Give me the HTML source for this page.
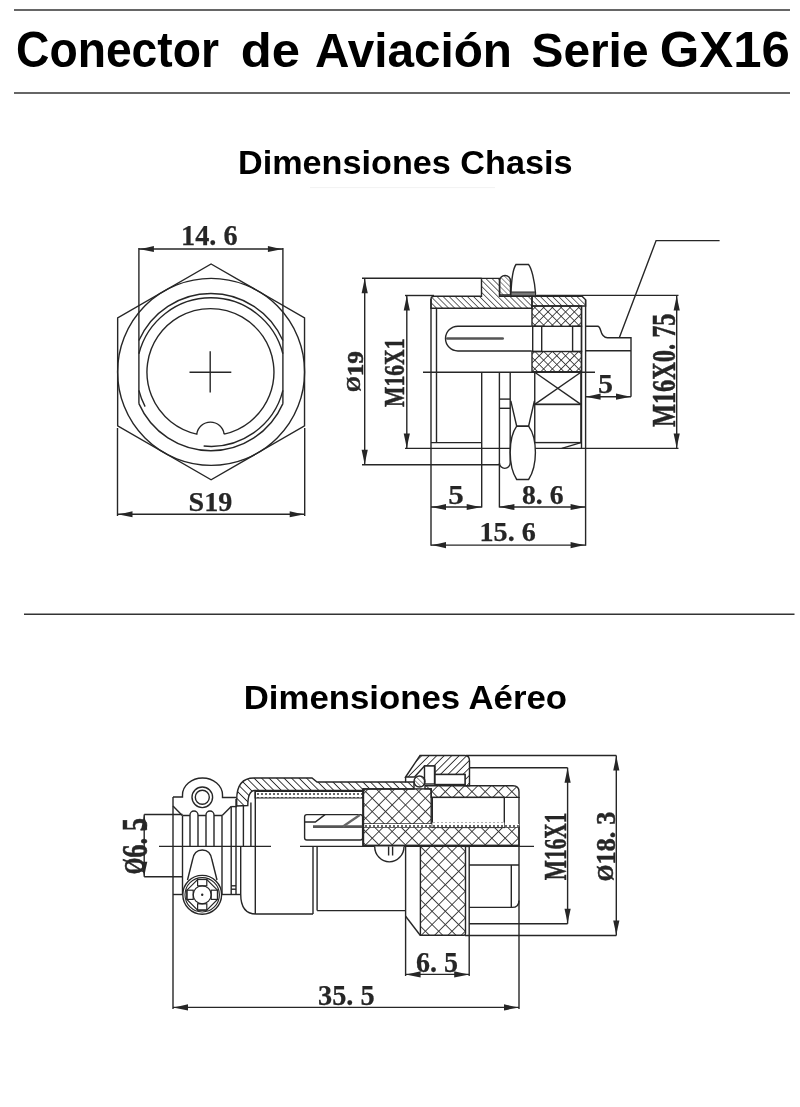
<!DOCTYPE html>
<html><head><meta charset="utf-8">
<style>
html,body{margin:0;padding:0;background:#fff;}
body{width:800px;height:1107px;overflow:hidden;}
svg{display:block;filter:grayscale(1);}
</style></head><body>
<svg width="800" height="1107" viewBox="0 0 800 1107">
<defs>
<pattern id="hb" width="4.3" height="4.3" patternUnits="userSpaceOnUse" patternTransform="rotate(-45)"><line x1="0" y1="0" x2="0" y2="4.3" stroke="#2a2a2a" stroke-width="1.4"/></pattern>
<pattern id="ha" width="5.3" height="5.3" patternUnits="userSpaceOnUse" patternTransform="rotate(-45)"><line x1="0" y1="0" x2="0" y2="5.3" stroke="#2a2a2a" stroke-width="1.8"/></pattern>
<pattern id="hf" width="5.3" height="5.3" patternUnits="userSpaceOnUse" patternTransform="rotate(45)"><line x1="0" y1="0" x2="0" y2="5.3" stroke="#2a2a2a" stroke-width="1.8"/></pattern>
<pattern id="hs" width="3.5" height="3.5" patternUnits="userSpaceOnUse" patternTransform="rotate(-45)"><line x1="0" y1="0" x2="0" y2="3.5" stroke="#222" stroke-width="1"/></pattern>
<pattern id="xh" width="6.2" height="6.2" patternUnits="userSpaceOnUse" patternTransform="rotate(45)"><line x1="0" y1="0" x2="0" y2="6.2" stroke="#2a2a2a" stroke-width="1.6"/><line x1="0" y1="0" x2="6.2" y2="0" stroke="#2a2a2a" stroke-width="1.6"/></pattern>
<pattern id="xa" width="9.4" height="9.4" patternUnits="userSpaceOnUse" patternTransform="rotate(45)"><line x1="0" y1="0" x2="0" y2="9.4" stroke="#333" stroke-width="1.8"/><line x1="0" y1="0" x2="9.4" y2="0" stroke="#333" stroke-width="1.8"/></pattern>
<pattern id="dt" width="4" height="4" patternUnits="userSpaceOnUse"><rect x="0" y="0" width="4" height="4" fill="#fff"/><circle cx="2" cy="2" r="1" fill="#333"/></pattern>
</defs>
<line x1="14" y1="10" x2="790" y2="10" stroke="#333" stroke-width="1.5" />
<line x1="14" y1="93" x2="790" y2="93" stroke="#333" stroke-width="1.5" />
<text x="16.00" y="67.00" font-family="Liberation Sans, sans-serif" font-weight="bold" font-size="49.46" textLength="203.00" lengthAdjust="spacingAndGlyphs" fill="#000">Conector</text>
<text x="240.75" y="67.00" font-family="Liberation Sans, sans-serif" font-weight="bold" font-size="47.76" textLength="59.25" lengthAdjust="spacingAndGlyphs" fill="#000">de</text>
<text x="315.00" y="67.00" font-family="Liberation Sans, sans-serif" font-weight="bold" font-size="47.76" textLength="197.00" lengthAdjust="spacingAndGlyphs" fill="#000">Aviación</text>
<text x="531.50" y="67.00" font-family="Liberation Sans, sans-serif" font-weight="bold" font-size="47.76" textLength="117.00" lengthAdjust="spacingAndGlyphs" fill="#000">Serie</text>
<text x="659.75" y="67.00" font-family="Liberation Sans, sans-serif" font-weight="bold" font-size="49.46" textLength="130.00" lengthAdjust="spacingAndGlyphs" fill="#000">GX16</text>
<text x="238.00" y="174.00" font-family="Liberation Sans, sans-serif" font-weight="bold" font-size="32.72" textLength="334.50" lengthAdjust="spacingAndGlyphs" fill="#000">Dimensiones Chasis</text>
<text x="243.75" y="708.50" font-family="Liberation Sans, sans-serif" font-weight="bold" font-size="33.46" textLength="323.25" lengthAdjust="spacingAndGlyphs" fill="#000">Dimensiones Aéreo</text>
<line x1="24" y1="614.25" x2="794.5" y2="614.25" stroke="#333" stroke-width="1.6" />
<line x1="310" y1="187.6" x2="495" y2="187.6" stroke="#eee" stroke-width="0.8" />
<polygon points="211.10,264.00 304.54,317.95 304.54,425.85 211.10,479.80 117.66,425.85 117.66,317.95" fill="none" stroke="#262626" stroke-width="1.4"/>
<circle cx="211.1" cy="371.9" r="93.5" stroke="#262626" stroke-width="1.4" fill="none"/>
<path d="M138.9,340.57 A78.6,78.6 0 0 1 282.9,340.57" stroke="#262626" stroke-width="1.4" fill="none" />
<path d="M282.9,403.63 A78.6,78.6 0 0 1 138.9,403.63" stroke="#262626" stroke-width="1.4" fill="none" />
<line x1="138.9" y1="248" x2="138.9" y2="403.6271311730072" stroke="#262626" stroke-width="1.4" />
<line x1="282.9" y1="248" x2="282.9" y2="403.6271311730072" stroke="#262626" stroke-width="1.4" />
<path d="M138.9,353.76 A74.3,74.3 0 0 1 282.9,353.76" stroke="#262626" stroke-width="1.4" fill="none" />
<path d="M282.9,390.44 A74.3,74.3 0 0 1 203.65,446.05" stroke="#262626" stroke-width="1.4" fill="none" />
<path d="M145.12,406.64 A74.3,74.3 0 0 1 138.9,390.44" stroke="#262626" stroke-width="1.4" fill="none" />
<path d="M224.13,434.11 A63.5,63.5 0 1 0 196.77,434.11 A13.8,13.8 0 0 1 224.13,434.11" stroke="#262626" stroke-width="1.4" fill="none" />
<line x1="189.5" y1="372.2" x2="231.3" y2="372.2" stroke="#262626" stroke-width="1.4" />
<line x1="210.2" y1="351.2" x2="210.2" y2="392.6" stroke="#262626" stroke-width="1.4" />
<line x1="138.9" y1="249" x2="282.9" y2="249" stroke="#262626" stroke-width="1.4" />
<path d="M138.9,249 Q146.4,247.605 153.9,245.9 L153.9,252.1 Q146.4,250.395 138.9,249 Z" fill="#262626"/>
<path d="M282.9,249 Q275.4,247.605 267.9,245.9 L267.9,252.1 Q275.4,250.395 282.9,249 Z" fill="#262626"/>
<text x="181.00" y="245.00" font-family="Liberation Serif, serif" font-weight="bold" font-size="29.62" textLength="56.50" lengthAdjust="spacingAndGlyphs" fill="#262626" stroke="#262626" stroke-width="0.25">14. 6</text>
<line x1="117.5" y1="428" x2="117.5" y2="516" stroke="#262626" stroke-width="1.4" />
<line x1="304.7" y1="428" x2="304.7" y2="516" stroke="#262626" stroke-width="1.4" />
<line x1="117.5" y1="514.25" x2="304.7" y2="514.25" stroke="#262626" stroke-width="1.4" />
<path d="M117.5,514.25 Q125.0,512.855 132.5,511.15 L132.5,517.35 Q125.0,515.645 117.5,514.25 Z" fill="#262626"/>
<path d="M304.7,514.25 Q297.2,512.855 289.7,511.15 L289.7,517.35 Q297.2,515.645 304.7,514.25 Z" fill="#262626"/>
<text x="188.50" y="511.25" font-family="Liberation Serif, serif" font-weight="bold" font-size="27.97" textLength="43.75" lengthAdjust="spacingAndGlyphs" fill="#262626" stroke="#262626" stroke-width="0.25">S19</text>
<line x1="362" y1="278.25" x2="481.5" y2="278.25" stroke="#262626" stroke-width="1.4" />
<line x1="362" y1="464.7" x2="499.4" y2="464.7" stroke="#262626" stroke-width="1.4" />
<line x1="364.7" y1="278.25" x2="364.7" y2="464.7" stroke="#262626" stroke-width="1.4" />
<path d="M364.7,278.25 Q363.305,285.75 361.59999999999997,293.25 L367.8,293.25 Q366.09499999999997,285.75 364.7,278.25 Z" fill="#262626"/>
<path d="M364.7,464.7 Q363.305,457.2 361.59999999999997,449.7 L367.8,449.7 Q366.09499999999997,457.2 364.7,464.7 Z" fill="#262626"/>
<text transform="translate(363.00,392.00) rotate(-90)" x="0" y="0" font-family="Liberation Serif, serif" font-weight="bold" font-size="22.58" textLength="41.00" lengthAdjust="spacingAndGlyphs" fill="#262626" stroke="#262626" stroke-width="0.5"><tspan font-size="18.07" dy="-2.8">Ø</tspan><tspan dy="2.8">19</tspan></text>
<line x1="405" y1="295.5" x2="434" y2="295.5" stroke="#262626" stroke-width="1.4" />
<line x1="405" y1="448.4" x2="678.5" y2="448.4" stroke="#262626" stroke-width="1.4" />
<line x1="406.8" y1="295.5" x2="406.8" y2="448.4" stroke="#262626" stroke-width="1.4" />
<path d="M406.8,295.5 Q405.40500000000003,303.0 403.7,310.5 L409.90000000000003,310.5 Q408.195,303.0 406.8,295.5 Z" fill="#262626"/>
<path d="M406.8,448.4 Q405.40500000000003,440.9 403.7,433.4 L409.90000000000003,433.4 Q408.195,440.9 406.8,448.4 Z" fill="#262626"/>
<text transform="translate(404.00,407.00) rotate(-90)" x="0" y="0" font-family="Liberation Serif, serif" font-weight="bold" font-size="28.40" textLength="68.50" lengthAdjust="spacingAndGlyphs" fill="#262626" stroke="#262626" stroke-width="0.5">M16X1</text>
<line x1="535" y1="295.4" x2="678.5" y2="295.4" stroke="#262626" stroke-width="1.4" />
<line x1="676.7" y1="295.4" x2="676.7" y2="448.4" stroke="#262626" stroke-width="1.4" />
<path d="M676.7,295.4 Q675.3050000000001,302.9 673.6,310.4 L679.8000000000001,310.4 Q678.095,302.9 676.7,295.4 Z" fill="#262626"/>
<path d="M676.7,448.4 Q675.3050000000001,440.9 673.6,433.4 L679.8000000000001,433.4 Q678.095,440.9 676.7,448.4 Z" fill="#262626"/>
<text transform="translate(674.50,427.00) rotate(-90)" x="0" y="0" font-family="Liberation Serif, serif" font-weight="bold" font-size="32.89" textLength="113.50" lengthAdjust="spacingAndGlyphs" fill="#262626" stroke="#262626" stroke-width="0.5">M16X0. 75</text>
<path d="M619.3,337.7 L656.1,240.6 L719.6,240.6" stroke="#262626" stroke-width="1.4" fill="none" />
<path d="M431,308.2 L431,299 Q431,296.2 434,296.2 L481.5,296.2 L481.5,278.4 L499.5,278.4 L499.5,296.2 L532,296.2 L532,308.2 Z" stroke="#262626" stroke-width="1.4" fill="url(#hb)" />
<line x1="431" y1="299" x2="431" y2="448.4" stroke="#262626" stroke-width="1.4" />
<path d="M532,296.2 L582,296.2 L585.6,299.8 L585.6,306 L532,306 Z" stroke="#262626" stroke-width="1.4" fill="url(#hb)" />
<line x1="436.5" y1="308.2" x2="436.5" y2="442.6" stroke="#262626" stroke-width="1.4" />
<line x1="431" y1="442.6" x2="481.5" y2="442.6" stroke="#262626" stroke-width="1.4" />
<path d="M499.6,295 L499.6,281 A5.45,5.5 0 0 1 510.5,281 L510.5,295 Z" stroke="#262626" stroke-width="1.4" fill="url(#hs)" />
<path d="M511,293 C511.5,280 513.5,268 516,264.5 L528.5,264.5 C531.5,268 534.5,280 535.5,293 Z" stroke="#262626" stroke-width="1.4" fill="#fff" />
<rect x="511" y="292" width="24.5" height="3.8" fill="#777" stroke="#262626" stroke-width="1"/>
<rect x="532" y="306" width="49.5" height="20.3" rx="0" stroke="#262626" stroke-width="1.4" fill="url(#xh)"/>
<rect x="532" y="351.5" width="49.5" height="20.3" rx="0" stroke="#262626" stroke-width="1.4" fill="url(#xh)"/>
<line x1="581.5" y1="306" x2="581.5" y2="448.4" stroke="#262626" stroke-width="1.4" />
<line x1="585.6" y1="299.8" x2="585.6" y2="545.75" stroke="#262626" stroke-width="1.4" />
<path d="M531.7,326.2 L457.9,326.2 A12.4,12.4 0 0 0 457.9,351 L531.7,351" stroke="#262626" stroke-width="1.4" fill="none" />
<rect x="446" y="337.2" width="58" height="2.6" rx="1.3" fill="#555"/>
<rect x="532.7" y="326.3" width="9" height="25.2" rx="0" stroke="#262626" stroke-width="1.4" fill="none"/>
<rect x="572.6" y="326.3" width="8.9" height="25.2" rx="0" stroke="#262626" stroke-width="1.4" fill="none"/>
<path d="M585.6,326.3 L597.7,326.3 Q599.5,326.5 600.5,330 Q602.5,337.7 607.5,337.7 L631,337.7 L631,396.7" stroke="#262626" stroke-width="1.4" fill="none" />
<line x1="585.6" y1="350.7" x2="631" y2="350.7" stroke="#262626" stroke-width="1.4" />
<line x1="585.6" y1="396.7" x2="631" y2="396.7" stroke="#262626" stroke-width="1.4" />
<path d="M585.6,396.7 Q593.1,395.305 600.6,393.59999999999997 L600.6,399.8 Q593.1,398.09499999999997 585.6,396.7 Z" fill="#262626"/>
<path d="M631,396.7 Q623.5,395.305 616,393.59999999999997 L616,399.8 Q623.5,398.09499999999997 631,396.7 Z" fill="#262626"/>
<text x="598.00" y="393.00" font-family="Liberation Serif, serif" font-weight="bold" font-size="28.23" textLength="15.00" lengthAdjust="spacingAndGlyphs" fill="#262626" stroke="#262626" stroke-width="0.25">5</text>
<line x1="423" y1="372.2" x2="595" y2="372.2" stroke="#262626" stroke-width="1.4" />
<rect x="534.75" y="372.2" width="46.15" height="32.2" rx="0" stroke="#262626" stroke-width="1.4" fill="none"/>
<line x1="534.75" y1="372.2" x2="580.9" y2="404.4" stroke="#262626" stroke-width="1.4" />
<line x1="580.9" y1="372.2" x2="534.75" y2="404.4" stroke="#262626" stroke-width="1.4" />
<rect x="534.75" y="404.4" width="46.15" height="38.2" rx="0" stroke="#262626" stroke-width="1.4" fill="none"/>
<line x1="561.75" y1="448.3" x2="580.9" y2="442.6" stroke="#262626" stroke-width="1.4" />
<line x1="481.7" y1="372.2" x2="481.7" y2="507.5" stroke="#262626" stroke-width="1.4" />
<line x1="499.4" y1="372.2" x2="499.4" y2="507.5" stroke="#262626" stroke-width="1.4" />
<path d="M510.2,372.2 L510.2,463 A5.4,5.4 0 0 1 499.4,463" stroke="#262626" stroke-width="1.4" fill="none" />
<line x1="499.4" y1="399.1" x2="510.2" y2="399.1" stroke="#262626" stroke-width="1.4" />
<line x1="499.4" y1="408.3" x2="510.2" y2="408.3" stroke="#262626" stroke-width="1.4" />
<path d="M510.8,400.8 L516.7,426.2 L528.6,426.2 L534.4,400.8" stroke="#262626" stroke-width="1.4" fill="none" />
<path d="M516.7,426.2 C512.5,432 510.2,442 510.2,452.5 C510.2,464 512.5,473 516.7,479.5 L528.6,479.5 C532.8,473 535.4,464 535.4,452.5 C535.4,442 532.8,432 528.6,426.2 Z" stroke="#262626" stroke-width="1.4" fill="#fff" />
<line x1="431" y1="448.4" x2="431" y2="545.75" stroke="#262626" stroke-width="1.4" />
<line x1="431" y1="507" x2="481.7" y2="507" stroke="#262626" stroke-width="1.4" />
<path d="M431,507 Q438.5,505.605 446,503.9 L446,510.1 Q438.5,508.395 431,507 Z" fill="#262626"/>
<path d="M481.7,507 Q474.2,505.605 466.7,503.9 L466.7,510.1 Q474.2,508.395 481.7,507 Z" fill="#262626"/>
<text x="448.25" y="504.00" font-family="Liberation Serif, serif" font-weight="bold" font-size="26.59" textLength="15.50" lengthAdjust="spacingAndGlyphs" fill="#262626" stroke="#262626" stroke-width="0.25">5</text>
<line x1="499.4" y1="507" x2="585.6" y2="507" stroke="#262626" stroke-width="1.4" />
<path d="M499.4,507 Q506.9,505.605 514.4,503.9 L514.4,510.1 Q506.9,508.395 499.4,507 Z" fill="#262626"/>
<path d="M585.6,507 Q578.1,505.605 570.6,503.9 L570.6,510.1 Q578.1,508.395 585.6,507 Z" fill="#262626"/>
<text x="522.00" y="504.00" font-family="Liberation Serif, serif" font-weight="bold" font-size="26.59" textLength="41.50" lengthAdjust="spacingAndGlyphs" fill="#262626" stroke="#262626" stroke-width="0.25">8. 6</text>
<line x1="431" y1="545.1" x2="585.6" y2="545.1" stroke="#262626" stroke-width="1.4" />
<path d="M431,545.1 Q438.5,543.705 446,542.0 L446,548.2 Q438.5,546.495 431,545.1 Z" fill="#262626"/>
<path d="M585.6,545.1 Q578.1,543.705 570.6,542.0 L570.6,548.2 Q578.1,546.495 585.6,545.1 Z" fill="#262626"/>
<text x="479.50" y="541.25" font-family="Liberation Serif, serif" font-weight="bold" font-size="26.59" textLength="56.25" lengthAdjust="spacingAndGlyphs" fill="#262626" stroke="#262626" stroke-width="0.25">15. 6</text>
<line x1="144.2" y1="814.5" x2="182.5" y2="814.5" stroke="#262626" stroke-width="1.4" />
<line x1="144.2" y1="876.8" x2="182" y2="876.8" stroke="#262626" stroke-width="1.4" />
<line x1="144.2" y1="814.5" x2="144.2" y2="876.8" stroke="#262626" stroke-width="1.4" />
<path d="M144.2,814.5 Q142.80499999999998,822.0 141.1,829.5 L147.29999999999998,829.5 Q145.595,822.0 144.2,814.5 Z" fill="#262626"/>
<path d="M144.2,876.8 Q142.80499999999998,869.3 141.1,861.8 L147.29999999999998,861.8 Q145.595,869.3 144.2,876.8 Z" fill="#262626"/>
<text transform="translate(146.75,874.25) rotate(-90)" x="0" y="0" font-family="Liberation Serif, serif" font-weight="bold" font-size="35.53" textLength="56.25" lengthAdjust="spacingAndGlyphs" fill="#262626" stroke="#262626" stroke-width="0.5"><tspan font-size="28.42" dy="-2.8">Ø</tspan><tspan dy="2.8">6. 5</tspan></text>
<line x1="173" y1="797" x2="173" y2="1009" stroke="#262626" stroke-width="1.4" />
<line x1="519" y1="797" x2="519" y2="1009" stroke="#262626" stroke-width="1.4" />
<line x1="173" y1="1007.4" x2="519" y2="1007.4" stroke="#262626" stroke-width="1.4" />
<path d="M173,1007.4 Q180.5,1006.005 188,1004.3 L188,1010.5 Q180.5,1008.795 173,1007.4 Z" fill="#262626"/>
<path d="M519,1007.4 Q511.5,1006.005 504,1004.3 L504,1010.5 Q511.5,1008.795 519,1007.4 Z" fill="#262626"/>
<text x="318.00" y="1005.00" font-family="Liberation Serif, serif" font-weight="bold" font-size="29.36" textLength="56.60" lengthAdjust="spacingAndGlyphs" fill="#262626" stroke="#262626" stroke-width="0.25">35. 5</text>
<line x1="405.6" y1="846" x2="405.6" y2="976" stroke="#262626" stroke-width="1.4" />
<line x1="469.2" y1="846" x2="469.2" y2="976" stroke="#262626" stroke-width="1.4" />
<line x1="405.6" y1="974.4" x2="469.2" y2="974.4" stroke="#262626" stroke-width="1.4" />
<path d="M405.6,974.4 Q413.1,973.005 420.6,971.3 L420.6,977.5 Q413.1,975.795 405.6,974.4 Z" fill="#262626"/>
<path d="M469.2,974.4 Q461.7,973.005 454.2,971.3 L454.2,977.5 Q461.7,975.795 469.2,974.4 Z" fill="#262626"/>
<text x="416.00" y="972.40" font-family="Liberation Serif, serif" font-weight="bold" font-size="29.36" textLength="42.00" lengthAdjust="spacingAndGlyphs" fill="#262626" stroke="#262626" stroke-width="0.25">6. 5</text>
<line x1="466" y1="755.5" x2="616.3" y2="755.5" stroke="#262626" stroke-width="1.4" />
<line x1="469.5" y1="767.7" x2="567.6" y2="767.7" stroke="#262626" stroke-width="1.4" />
<line x1="469.2" y1="923.8" x2="567.6" y2="923.8" stroke="#262626" stroke-width="1.4" />
<line x1="465" y1="935.5" x2="616.3" y2="935.5" stroke="#262626" stroke-width="1.4" />
<line x1="567.6" y1="767.7" x2="567.6" y2="923.8" stroke="#262626" stroke-width="1.4" />
<path d="M567.6,767.7 Q566.205,775.2 564.5,782.7 L570.7,782.7 Q568.995,775.2 567.6,767.7 Z" fill="#262626"/>
<path d="M567.6,923.8 Q566.205,916.3 564.5,908.8 L570.7,908.8 Q568.995,916.3 567.6,923.8 Z" fill="#262626"/>
<text transform="translate(565.60,880.20) rotate(-90)" x="0" y="0" font-family="Liberation Serif, serif" font-weight="bold" font-size="32.28" textLength="67.60" lengthAdjust="spacingAndGlyphs" fill="#262626" stroke="#262626" stroke-width="0.5">M16X1</text>
<line x1="616.3" y1="755.5" x2="616.3" y2="935.5" stroke="#262626" stroke-width="1.4" />
<path d="M616.3,755.5 Q614.905,763.0 613.1999999999999,770.5 L619.4,770.5 Q617.6949999999999,763.0 616.3,755.5 Z" fill="#262626"/>
<path d="M616.3,935.5 Q614.905,928.0 613.1999999999999,920.5 L619.4,920.5 Q617.6949999999999,928.0 616.3,935.5 Z" fill="#262626"/>
<text transform="translate(615.30,881.20) rotate(-90)" x="0" y="0" font-family="Liberation Serif, serif" font-weight="bold" font-size="28.15" textLength="69.60" lengthAdjust="spacingAndGlyphs" fill="#262626" stroke="#262626" stroke-width="0.5"><tspan font-size="22.52" dy="-2.8">Ø</tspan><tspan dy="2.8">18. 3</tspan></text>
<line x1="159" y1="846.4" x2="271" y2="846.4" stroke="#262626" stroke-width="1.4" />
<line x1="300" y1="846.4" x2="534" y2="846.4" stroke="#262626" stroke-width="1.4" />
<path d="M173,797 L182.5,797 L182.5,795 A20,17 0 0 1 222.5,795 L222.5,797.5 L236,797.5" stroke="#262626" stroke-width="1.4" fill="none" />
<circle cx="202.3" cy="797.3" r="10.3" stroke="#262626" stroke-width="1.4" fill="none"/>
<circle cx="202.3" cy="797.3" r="7" stroke="#262626" stroke-width="1.4" fill="none"/>
<line x1="173" y1="806" x2="182.3" y2="815.5" stroke="#262626" stroke-width="1.4" />
<line x1="222.2" y1="815.5" x2="231.2" y2="806.6" stroke="#262626" stroke-width="1.4" />
<line x1="231.2" y1="806.6" x2="237" y2="806.6" stroke="#262626" stroke-width="1.4" />
<line x1="182.5" y1="815.5" x2="182.5" y2="894.5" stroke="#262626" stroke-width="1.4" />
<path d="M182.5,815.5 L190,815.5 L190,846.4 M190,846.4 L190,815 A4,4 0 0 1 198,815 L198,846.4 M198,815.5 L206,815.5 M206,846.4 L206,815 A4,4 0 0 1 214,815 L214,846.4 M214,815.5 L222,815.5" stroke="#262626" stroke-width="1.4" fill="none" />
<line x1="222" y1="815.5" x2="222" y2="894.5" stroke="#262626" stroke-width="1.4" />
<line x1="231.2" y1="806.6" x2="231.2" y2="894.5" stroke="#262626" stroke-width="1.4" />
<line x1="236" y1="799" x2="236" y2="894.5" stroke="#262626" stroke-width="1.4" />
<line x1="243.4" y1="806" x2="243.4" y2="846.4" stroke="#262626" stroke-width="1.4" />
<line x1="250.9" y1="802.5" x2="250.9" y2="846.4" stroke="#262626" stroke-width="1.4" />
<line x1="231.2" y1="885.8" x2="236" y2="885.8" stroke="#262626" stroke-width="1.4" />
<line x1="231.2" y1="889.2" x2="236" y2="889.2" stroke="#262626" stroke-width="1.4" />
<line x1="173" y1="894.5" x2="182.5" y2="894.5" stroke="#262626" stroke-width="1.4" />
<line x1="222" y1="894.5" x2="240.7" y2="894.5" stroke="#262626" stroke-width="1.4" />
<path d="M187.5,880 L192.5,860 Q194,850 202.3,850 Q210.5,850 212,860 L217,880" stroke="#262626" stroke-width="1.4" fill="#fff" />
<circle cx="202.2" cy="894.8" r="19.4" stroke="#262626" stroke-width="1.4" fill="#fff"/>
<circle cx="202.2" cy="894.8" r="17.2" stroke="#262626" stroke-width="1.1" fill="none"/>
<polygon points="197.60,879.50 206.80,879.50 217.50,890.20 217.50,899.40 206.80,910.10 197.60,910.10 186.90,899.40 186.90,890.20" fill="none" stroke="#262626" stroke-width="1.2"/>
<circle cx="202.2" cy="894.8" r="9.0" stroke="#262626" stroke-width="1.2" fill="none"/>
<rect x="197.6" y="879.5" width="9.2" height="6.3" rx="0" stroke="#262626" stroke-width="1.2" fill="none"/>
<rect x="197.6" y="903.8" width="9.2" height="6.3" rx="0" stroke="#262626" stroke-width="1.2" fill="none"/>
<rect x="186.9" y="890.2" width="6.3" height="9.2" rx="0" stroke="#262626" stroke-width="1.2" fill="none"/>
<rect x="211.2" y="890.2" width="6.3" height="9.2" rx="0" stroke="#262626" stroke-width="1.2" fill="none"/>
<circle cx="202.2" cy="894.8" r="1.2" stroke="#262626" stroke-width="0" fill="#262626"/>
<path d="M236.7,806 L236.7,799.5 Q236.7,778 254,778 L312,778 L317,782 L414,782 L414,789 L363,789 L363,790.5 L254.5,790.5 Q247.8,791 247.8,805.5 Z" stroke="#262626" stroke-width="1.4" fill="url(#ha)" />
<rect x="255" y="791.5" width="108" height="6.5" fill="url(#dt)" stroke="#222" stroke-width="1"/>
<line x1="255.3" y1="790.5" x2="255.3" y2="914" stroke="#262626" stroke-width="1.4" />
<line x1="250.9" y1="846.4" x2="250.9" y2="846.4" stroke="#262626" stroke-width="1.4" />
<path d="M240.7,846.4 L240.7,894 Q240.7,914 256,914 L313,914" stroke="#262626" stroke-width="1.4" fill="none" />
<line x1="313" y1="846.4" x2="313" y2="914" stroke="#262626" stroke-width="1.4" />
<line x1="317.1" y1="846.4" x2="317.1" y2="910.6" stroke="#262626" stroke-width="1.4" />
<line x1="317.1" y1="910.6" x2="405.6" y2="910.6" stroke="#262626" stroke-width="1.4" />
<rect x="304.6" y="814.6" width="58" height="25.4" rx="2.2" stroke="#262626" stroke-width="1.4" fill="none"/>
<path d="M304.6,822 L315.3,822 L325,814.6" stroke="#262626" stroke-width="1.4" fill="none" />
<polygon points="313,825.3 362.6,825.3 362.6,828 313,828" fill="#555"/>
<path d="M343,826.5 L359.8,815" stroke="#666" stroke-width="2.2" fill="none" />
<rect x="363.2" y="788.9" width="68" height="35.1" rx="0" stroke="#262626" stroke-width="1.4" fill="url(#xa)"/>
<path d="M425,785.7 L513,785.7 Q519,785.7 519,791.7 L519,797.4 L431.2,797.4 L431.2,788.9 L425,788.9 Z" stroke="#262626" stroke-width="1.4" fill="url(#xa)" />
<rect x="363.2" y="827.1" width="155.8" height="18.2" rx="0" stroke="#262626" stroke-width="1.4" fill="url(#xa)"/>
<rect x="363.2" y="824" width="155.8" height="3.1" fill="url(#dt)"/>
<path d="M420.4,846.4 L420.4,935.3 L464,935.3 Q465.5,935.3 465.5,933 L465.5,846.4" stroke="#262626" stroke-width="1.4" fill="url(#xa)" />
<rect x="432.3" y="797.4" width="72" height="30" rx="0" stroke="#262626" stroke-width="1.4" fill="#fff"/>
<rect x="432.3" y="822.5" width="72" height="4.6" fill="url(#dt)"/>
<line x1="363.2" y1="788.9" x2="363.2" y2="846.4" stroke="#262626" stroke-width="2" />
<path d="M405.6,777 L420,755.5 L465,755.5 Q469.5,755.5 469.5,761 L469.5,785.7 L465,785.7 L465,774.5 L435,774.5 L435,766 L424.5,766 L414.5,777 Z" stroke="#262626" stroke-width="1.4" fill="url(#hf)" />
<line x1="405.6" y1="777" x2="405.6" y2="782.5" stroke="#262626" stroke-width="1.4" />
<rect x="424.5" y="766" width="10" height="18" rx="0" stroke="#262626" stroke-width="1.4" fill="#fff"/>
<rect x="435" y="774.5" width="30" height="10" rx="0" stroke="#262626" stroke-width="1.4" fill="#fff"/>
<circle cx="419.5" cy="781.5" r="5.5" stroke="#262626" stroke-width="1.4" fill="url(#hs)"/>
<path d="M374.7,846.4 A14.6,15.4 0 0 0 404,846.4" stroke="#262626" stroke-width="1.4" fill="#fff" />
<line x1="388.6" y1="846.4" x2="388.6" y2="855.5" stroke="#262626" stroke-width="1.4" />
<line x1="392.6" y1="846.4" x2="392.6" y2="855.5" stroke="#262626" stroke-width="1.4" />
<line x1="405.6" y1="916.2" x2="420.2" y2="935.3" stroke="#262626" stroke-width="1.4" />
<line x1="465.5" y1="846.4" x2="469.2" y2="846.4" stroke="#262626" stroke-width="1.4" />
<path d="M469.2,865 L519,865 M469.2,907.4 L512,907.4 Q519,907.4 519,900.4" stroke="#262626" stroke-width="1.4" fill="none" />
<line x1="511.3" y1="865" x2="511.3" y2="907.4" stroke="#262626" stroke-width="1.4" />
</svg>
</body></html>
